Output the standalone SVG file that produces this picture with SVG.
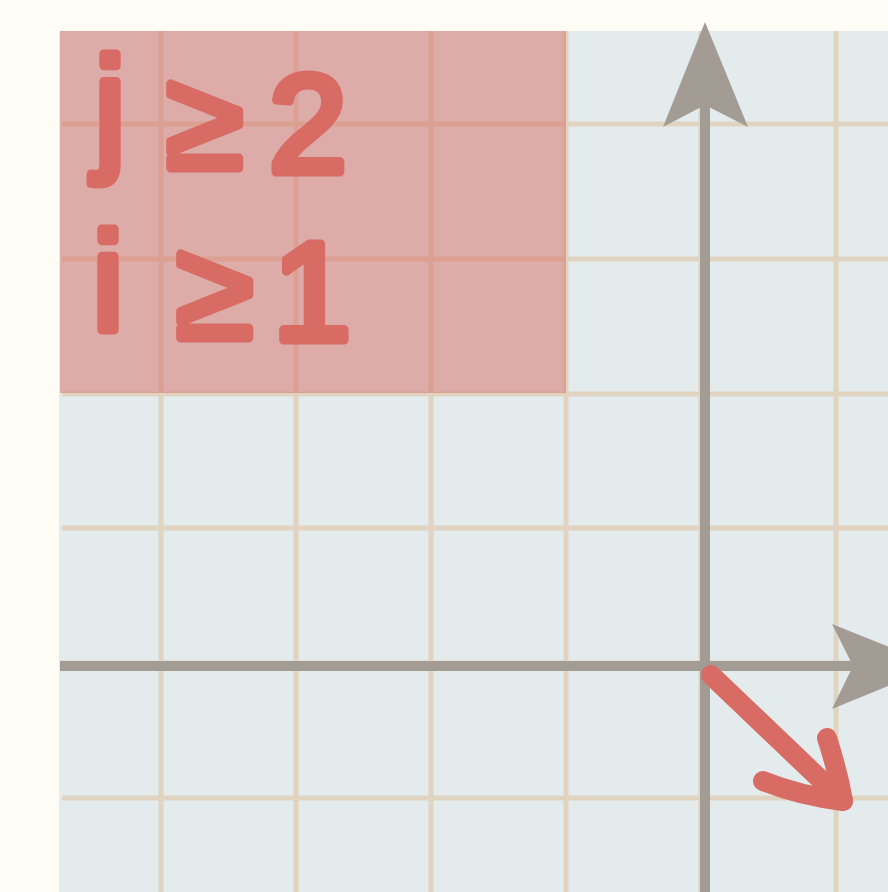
<svg xmlns="http://www.w3.org/2000/svg" width="888" height="892" viewBox="0 0 888 892">
<style>
.grid{stroke:#e0d4c0;stroke-width:5;fill:none}
.axis{stroke:#a39c95;stroke-width:10;fill:none}
.axhead{fill:#a39c95}
.red{stroke:#d86b63;stroke-width:20;fill:none;stroke-linecap:round;stroke-linejoin:round}
.lbl{font-family:"Liberation Sans",Arial,sans-serif;font-weight:400;font-size:140px;fill:#d86b63;stroke:#d86b63;stroke-width:9;stroke-linejoin:round;stroke-linecap:round;text-anchor:middle}
</style>
<rect x="0" y="0" width="888" height="892" fill="#fffbf5"/>
<g id="plane">
<rect x="59" y="31" width="829" height="861" fill="#e3ebec"/>
<g class="grid">
<line x1="161" y1="31" x2="161" y2="892"/>
<line x1="296" y1="31" x2="296" y2="892"/>
<line x1="431" y1="31" x2="431" y2="892"/>
<line x1="566" y1="31" x2="566" y2="892"/>
<line x1="701" y1="31" x2="701" y2="892"/>
<line x1="836" y1="31" x2="836" y2="892"/>
<line x1="62" y1="124" x2="888" y2="124"/>
<line x1="62" y1="259" x2="888" y2="259"/>
<line x1="62" y1="394" x2="888" y2="394"/>
<line x1="62" y1="528" x2="888" y2="528"/>
<line x1="62" y1="663" x2="888" y2="663"/>
<line x1="62" y1="798" x2="888" y2="798"/>
</g>
</g>
<g id="region">
<rect x="60" y="31" width="506" height="362" fill="#d86b63" fill-opacity="0.5"/>
</g>
<g id="axes">
<line class="axis" x1="705" y1="100" x2="705" y2="892"/>
<polygon class="axhead" points="705,22 748,127 705,105 663,127"/>
<line class="axis" x1="60" y1="666" x2="860" y2="666"/>
<polygon class="axhead" points="937,666 832,709 853,666 832,624"/>
</g>
<g id="connectors">
<path class="red" d="M711,675 L843,801"/>
<path class="red" d="M827,738 Q838,772 843,801 Q800,796 763,781"/>
</g>
<g id="label">
<text class="lbl" x="110" y="155">j</text>
<text class="lbl" x="205" y="168">≥</text>
<text class="lbl" x="308" y="172">2</text>
<text class="lbl" x="108" y="330">i</text>
<text class="lbl" x="215" y="338">≥</text>
<text class="lbl" x="312" y="340">1</text>
</g>
</svg>
